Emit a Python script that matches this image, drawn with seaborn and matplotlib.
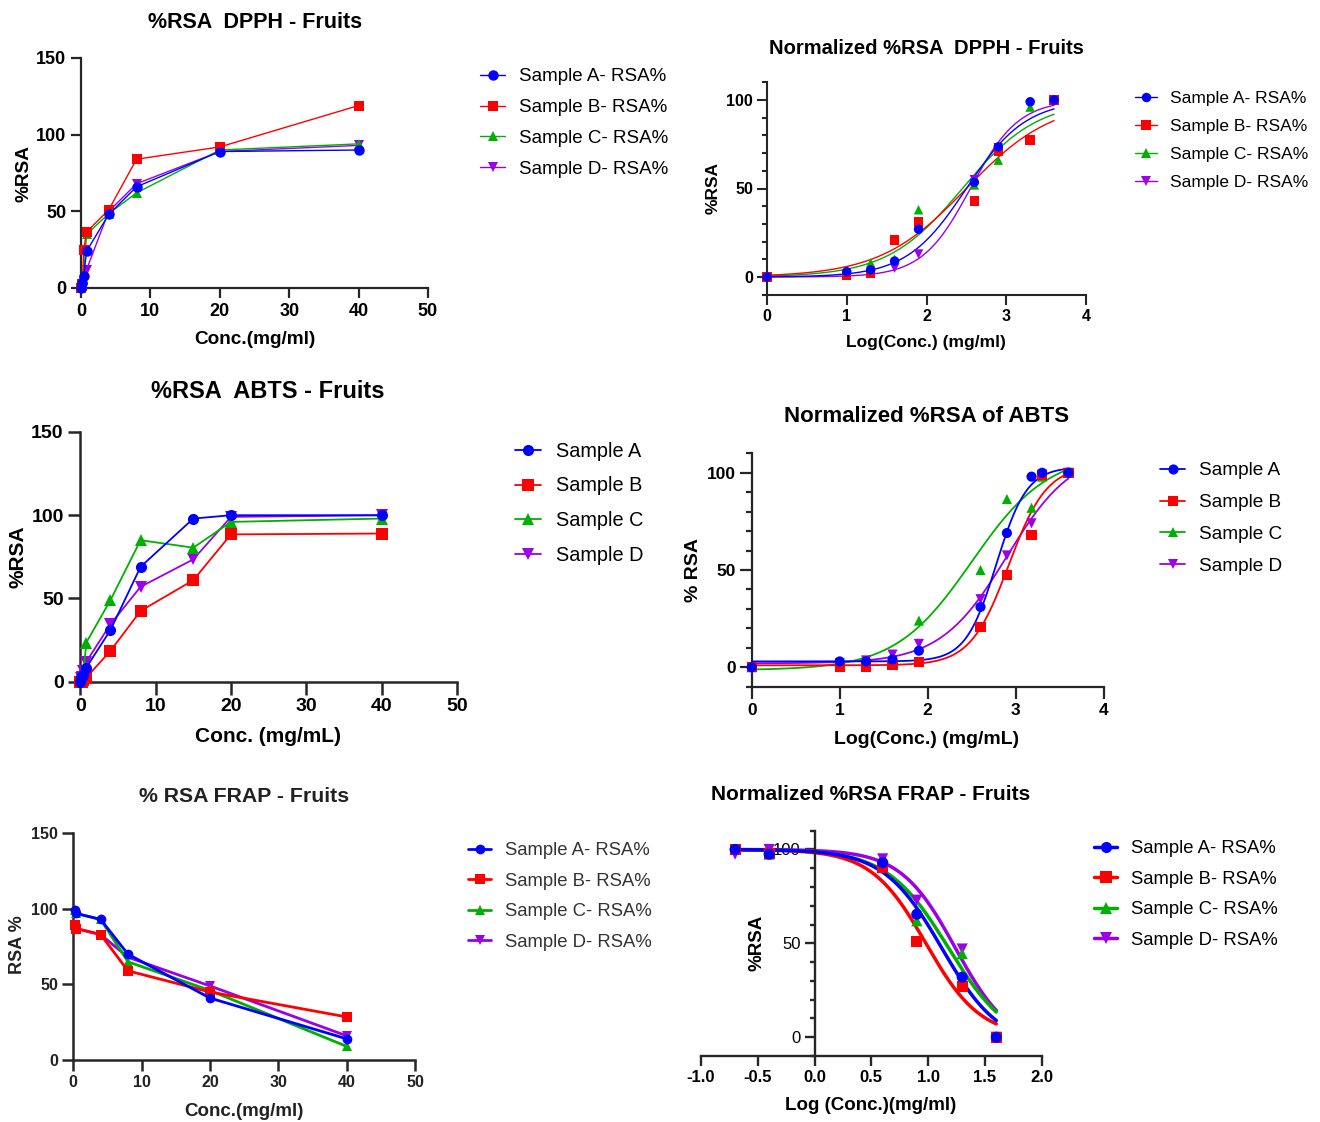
import numpy as np
import pandas as pd
import matplotlib
matplotlib.use("Agg")
import matplotlib.pyplot as plt
from matplotlib.lines import Line2D
from matplotlib.ticker import MultipleLocator
import seaborn as sns

sns.set_style("ticks")
plt.rcParams["font.family"] = ["Liberation Sans", "DejaVu Sans"]

W, H = 1320, 1122

colors = {"A": "#0000FF", "B": "#FF0000", "C": "#00B000", "D": "#9B00E6"}
markers = {"A": "o", "B": "s", "C": "^", "D": "v"}
draw_order = ["D", "C", "B", "A"]   # sample A ends up on top

# ---------------- DPPH ----------------
dpph_conc = [0.01, 0.1, 0.2, 0.4, 0.8, 4, 8, 20, 40]
dpph_A = [0, 3, 3.5, 8, 24, 48, 66, 89, 90]
dpph_B = [0, 1.2, 2.4, 25, 36.5, 51, 84, 92, 119]
dpph_C = [0, 1.5, 7.5, 9.5, 35, 48.5, 62, 90, 94]
dpph_D = [0, 1, 2, 4.5, 12, 50, 68, 89, 93]

dpph_log = [0, 1, 1.3, 1.6, 1.9, 2.6, 2.9, 3.3, 3.6]
dpph_nA = [0, 3, 4, 9, 27, 53.5, 73.5, 99, 100]
dpph_nB = [0, 1, 2, 21, 31, 43, 71, 77.5, 100]
dpph_nC = [0, 2, 8, 10, 38, 52, 66, 96, 100]
dpph_nD = [0, 1, 2, 5, 13, 55, 73, 97, 100]
# 4PL fit parameters: bottom, top, logEC50, hill
dpph_fit = {"A": (0, 100, 2.5, 1.16), "B": (0, 100, 2.5, 0.8),
            "C": (0, 100, 2.45, 0.92), "D": (0, 100, 2.55, 1.44)}

# ---------------- ABTS ----------------
abts_conc = [0.01, 0.1, 0.2, 0.4, 0.8, 4, 8, 15, 20, 40]
abts_A = [0, 3, 3, 4, 8.5, 31, 69, 98, 100, 100]
abts_B = [0, 0, 0, 1, 2.5, 18.5, 42.5, 61, 88.5, 89]
abts_C = [0, 1, 2, 4, 23.5, 49, 85, 80.5, 96, 98]
abts_D = [0, 2, 3, 6.5, 12, 34.5, 57, 73.5, 99, 100]

abts_log = [0, 1, 1.3, 1.6, 1.9, 2.6, 2.9, 3.18, 3.3, 3.6]
abts_nA = [0, 3, 3, 4, 8.5, 31, 69, 98, 100, 100]
abts_nB = [0, 0, 0, 1, 2.5, 20.5, 47.5, 68, 99, 100]
abts_nC = [0, 1, 2, 4, 24, 50, 86.5, 82, 98, 100]
abts_nD = [0, 2, 3.5, 6.5, 12, 35, 57.5, 74, 99, 100]
abts_fit = {"A": (3, 103, 2.78, 2.5), "B": (1, 104, 2.92, 2.0),
            "C": (-1.5, 110, 2.5, 1.0), "D": (2, 112, 2.9, 1.15)}

# ---------------- FRAP ----------------
frap_conc = [0.2, 0.4, 4, 8, 20, 40]
frap_A = [99, 97, 93, 70, 41, 14]
frap_B = [89, 87, 83, 59, 45, 28.5]
frap_C = [99, 97, 93, 65, 46, 9]
frap_D = [88, 87, 83, 68, 49, 16]

frap_log = [-0.7, -0.4, 0.6, 0.9, 1.3, 1.6]
frap_nA = [100, 97.5, 93, 65.5, 32, 0]
frap_nB = [100, 98, 90.5, 51, 27, 0]
frap_nC = [100, 97.5, 93, 62, 44.5, 0]
frap_nD = [97.5, 100, 95, 73, 47, 0]
frap_fit = {"A": (-5, 100, 1.12, -1.7), "B": (0, 100, 0.98, -1.8),
            "C": (-5, 100, 1.18, -1.6), "D": (-5, 100, 1.24, -1.8)}

labels_rsa = ["Sample A- RSA%", "Sample B- RSA%", "Sample C- RSA%", "Sample D- RSA%"]
labels_plain = ["Sample A", "Sample B", "Sample C", "Sample D"]


def logistic(x, bottom, top, logec50, hill):
    return bottom + (top - bottom) / (1 + 10 ** ((logec50 - x) * hill))


fig = plt.figure(figsize=(W / 100, H / 100), dpi=100)


def add_ax(left, top, right, bottom):
    return fig.add_axes([left / W, 1 - bottom / H, (right - left) / W, (bottom - top) / H])


def ftext(x, y, s, fs, rot=0, weight="bold", color="black"):
    fig.text(x / W, 1 - y / H, s, ha="center", va="center", fontsize=fs,
             fontweight=weight, rotation=rot, color=color)


def style(ax, xt, yt, xl, fs, lw=1.5, tl=6, xfmt="{:g}", yminor=None, color="black"):
    sns.despine(ax=ax)
    for s in ("left", "bottom"):
        ax.spines[s].set_linewidth(lw)
    ax.set_xticks(xt)
    ax.set_xticklabels([xfmt.format(v) for v in xt], fontweight="bold")
    ax.set_yticks(yt)
    ax.set_yticklabels(["{:g}".format(v) for v in yt], fontweight="bold")
    ax.tick_params(width=lw, length=tl, labelsize=fs, direction="out", pad=3,
                   labelcolor=color)
    if yminor:
        ax.yaxis.set_minor_locator(MultipleLocator(yminor))
        ax.tick_params(axis="y", which="minor", width=lw, length=tl * 0.5)
    ax.set_xlim(*xl)
    ax.set_xlabel("")
    ax.set_ylabel("")


def raw_panel(ax, x, series, lw, ms):
    for k in draw_order:
        sns.lineplot(x=x, y=series[k], ax=ax, color=colors[k], marker=markers[k],
                     markersize=ms, markeredgewidth=0, lw=lw, sort=False,
                     clip_on=False, zorder=3 + "DCBA".index(k), legend=False)


def fit_panel(ax, x, series, fits, xr, lw, ms):
    xs = np.linspace(xr[0], xr[1], 300)
    for k in draw_order:
        sns.lineplot(x=xs, y=logistic(xs, *fits[k]), ax=ax, color=colors[k], lw=lw,
                     legend=False, zorder=2)
    for k in draw_order:
        sns.scatterplot(x=x, y=series[k], ax=ax, color=colors[k], marker=markers[k],
                        s=ms ** 2, edgecolor="none", clip_on=False,
                        zorder=4 + "DCBA".index(k), legend=False)


def legend(labels, left, row1, spacing, fs, hl_px, lw, ms, color="black"):
    handles = [Line2D([], [], color=colors[k], marker=markers[k], lw=lw, ms=ms, mew=0)
               for k in "ABCD"]
    fpx = fs * 100 / 72
    leg = fig.legend(handles, labels, loc="upper left",
                     bbox_to_anchor=(left / W, 1 - (row1 - 0.36 * fpx) / H),
                     frameon=False, fontsize=fs, handlelength=hl_px / fpx,
                     handletextpad=0.75, labelspacing=(spacing - 0.91 * fpx) / fpx,
                     borderpad=0, borderaxespad=0)
    for t in leg.get_texts():
        t.set_color(color)


# ---- panel 1: raw DPPH ----
ax1 = add_ax(81, 58, 428, 288)
raw_panel(ax1, dpph_conc, {"A": dpph_A, "B": dpph_B, "C": dpph_C, "D": dpph_D}, 1.0, 7.5)
style(ax1, [0, 10, 20, 30, 40, 50], [0, 50, 100, 150], (0, 50), 13, lw=1.6, tl=7.5)
ax1.set_ylim(0, 150)
ftext(255, 22, "%RSA  DPPH - Fruits", 15.5)
ftext(255, 340, "Conc.(mg/ml)", 13.7)
ftext(24, 173, "%RSA", 13.7, rot=90)
legend(labels_rsa, 480, 75, 30.7, 13.5, 25, 1.0, 7.5)

# ---- panel 2: normalized DPPH ----
ax2 = add_ax(767, 82.3, 1086, 294.7)
fit_panel(ax2, dpph_log, {"A": dpph_nA, "B": dpph_nB, "C": dpph_nC, "D": dpph_nD},
          dpph_fit, (0, 3.6), 1.0, 6.8)
style(ax2, [0, 1, 2, 3, 4], [0, 50, 100], (0, 4), 11.5, lw=1.5, tl=7, yminor=10)
ax2.set_ylim(-10, 110)
ftext(926, 48, "Normalized %RSA  DPPH - Fruits", 14.5)
ftext(926, 342, "Log(Conc.) (mg/ml)", 12.5)
ftext(713, 188, "%RSA", 12.5, rot=90)
legend(labels_rsa, 1135, 97, 28.7, 12.5, 22, 1.0, 6.8)

# ---- panel 3: raw ABTS ----
ax3 = add_ax(80.3, 432, 457, 681.7)
raw_panel(ax3, abts_conc, {"A": abts_A, "B": abts_B, "C": abts_C, "D": abts_D}, 1.3, 8)
style(ax3, [0, 10, 20, 30, 40, 50], [0, 50, 100, 150], (0, 50), 14, lw=1.8, tl=9)
ax3.set_ylim(0, 150)
ftext(268, 392, "%RSA  ABTS - Fruits", 17)
ftext(268, 737, "Conc. (mg/mL)", 15)
ftext(18, 557, "%RSA", 15, rot=90)
legend(labels_plain, 515, 449, 33.7, 14.3, 26, 1.3, 8)

# ---- panel 4: normalized ABTS ----
ax4 = add_ax(751.7, 453.3, 1103.7, 686.7)
fit_panel(ax4, abts_log, {"A": abts_nA, "B": abts_nB, "C": abts_nC, "D": abts_nD},
          abts_fit, (0, 3.6), 1.3, 7.3)
style(ax4, [0, 1, 2, 3, 4], [0, 50, 100], (0, 4), 12.5, lw=1.6, tl=8.4, yminor=10)
ax4.set_ylim(-10, 110)
ftext(927, 416, "Normalized %RSA of ABTS", 16)
ftext(927, 739, "Log(Conc.) (mg/mL)", 14)
ftext(694, 570, "% RSA", 14, rot=90)
legend(labels_plain, 1160, 469, 31.7, 13.7, 25, 1.3, 7.3)

# ---- panel 5: raw FRAP ----
ax5 = add_ax(73.3, 833.3, 415, 1060)
raw_panel(ax5, frap_conc, {"A": frap_A, "B": frap_B, "C": frap_C, "D": frap_D}, 2.0, 7)
style(ax5, [0, 10, 20, 30, 40, 50], [0, 50, 100, 150], (0, 50), 11.5, lw=1.8, tl=8,
      color="#222222")
ax5.set_ylim(0, 150)
ftext(244, 797, "% RSA FRAP - Fruits", 15.3, color="#222222")
ftext(244, 1112, "Conc.(mg/ml)", 13.5, color="#222222")
ftext(18, 945, "RSA %", 13, rot=90, color="#222222")
legend(labels_rsa, 468, 849, 30.3, 13.3, 23, 2.0, 7, color="#333333")

# ---- panel 6: normalized FRAP ----
ax6 = add_ax(701, 830.7, 1041.7, 1056)
fit_panel(ax6, frap_log, {"A": frap_nA, "B": frap_nB, "C": frap_nC, "D": frap_nD},
          frap_fit, (-0.7, 1.6), 2.5, 8)
style(ax6, [-1.0, -0.5, 0.0, 0.5, 1.0, 1.5, 2.0], [0, 50, 100], (-1, 2), 12,
      lw=1.7, tl=7.2, xfmt="{:.1f}", yminor=10)
ax6.set_ylim(-10, 110)
ax6.spines["left"].set_position(("data", 0))
ftext(871, 795, "Normalized %RSA FRAP - Fruits", 15)
ftext(871, 1105, "Log (Conc.)(mg/ml)", 13.5)
ftext(757, 943, "%RSA", 13.5, rot=90)
legend(labels_rsa, 1094, 847, 30.3, 13.3, 23, 2.5, 8)

fig.savefig("out.png", dpi=100)
